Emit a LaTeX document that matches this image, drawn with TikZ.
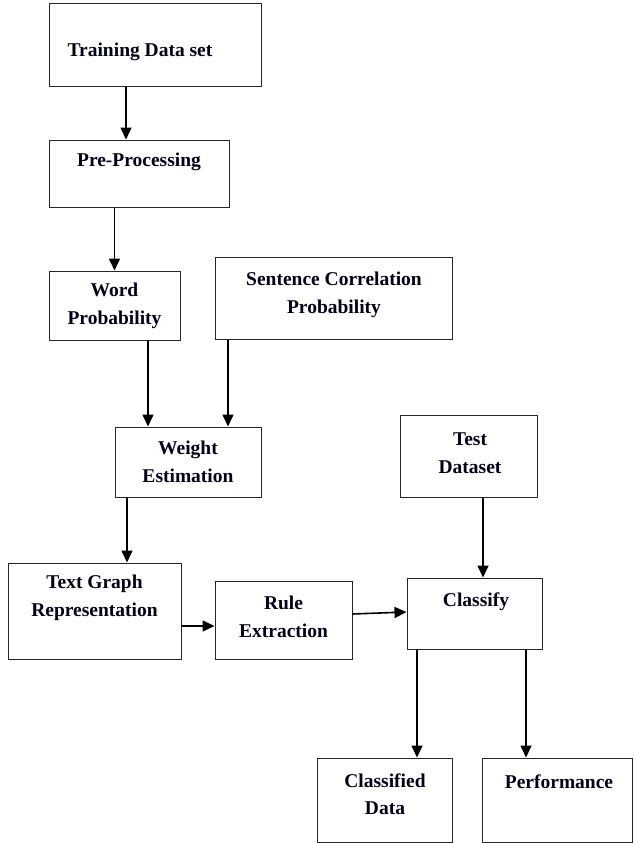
\documentclass[tikz,border=0pt]{standalone}
\usepackage{fontspec}
\setmainfont{Liberation Serif}
\usetikzlibrary{arrows.meta, positioning, calc}

\begin{document}
\begin{tikzpicture}[
  x=1pt, y=-1pt,
  box/.style={
    rectangle, draw=black!85, line width=1pt, fill=white,
    inner sep=0pt
  },
  lbl/.style={
    font=\fontsize{19.5}{27.5}\selectfont\bfseries,
    text=black!90!blue, align=center, inner sep=0pt
  },
  arr/.style={-{Triangle[length=12pt, width=11pt]}, line width=1.6pt, black}
]
  \useasboundingbox (0,0) rectangle (633,843);

  % Left column
  \node[box, minimum width=212, minimum height=82] (train) at (155,45) {};
  \node[lbl] (train-t) at (140,52) {Training Data set};
  \node[box, minimum width=180, minimum height=67] (pre) at (139,173.5) {};
  \node[lbl] (pre-t) at (139,162) {Pre-Processing};
  \node[box, minimum width=131, minimum height=69] (word) at (114.5,305.5) {};
  \node[lbl] (word-t) at (114.5,306) {Word\\Probability};
  \node[box, minimum width=237, minimum height=82] (sent) at (333.5,298) {};
  \node[lbl] (sent-t) at (334,295) {Sentence Correlation\\Probability};
  \node[box, minimum width=146, minimum height=70] (weight) at (188,462) {};
  \node[lbl] (weight-t) at (188,462) {Weight\\Estimation};

  % Bottom row
  \node[box, minimum width=173, minimum height=96] (tgr) at (94.5,611) {};
  \node[lbl] (tgr-t) at (94.5,598) {Text Graph\\Representation};
  \node[box, minimum width=137, minimum height=78] (rule) at (283.5,620) {};
  \node[lbl] (rule-t) at (283.5,617) {Rule\\Extraction};
  \node[box, minimum width=137, minimum height=82] (test) at (468.5,456) {};
  \node[lbl] (test-t) at (470,453) {Test\\Dataset};
  \node[box, minimum width=135, minimum height=71] (classify) at (474.5,613.5) {};
  \node[lbl] (classify-t) at (476,602) {Classify};
  \node[box, minimum width=135, minimum height=84] (cdata) at (384.5,800) {};
  \node[lbl] (cdata-t) at (385,794) {Classified\\Data};
  \node[box, minimum width=150, minimum height=84] (perf) at (557,800) {};
  \node[lbl] (perf-t) at (559,782) {Performance};

  % Arrows
  \draw[arr] ([xshift=-29]train.south) -- ([xshift=-29]train.south |- pre.north);
  \draw[arr] (pre.south -| word.north) -- (word.north);
  \draw[arr] ([xshift=33.5]word.south) -- ([xshift=33.5]word.south |- weight.north);
  \draw[arr] ([xshift=-105.5]sent.south) -- ([xshift=-105.5]sent.south |- weight.north);
  \draw[arr] ([xshift=-61]weight.south) -- ([xshift=-61]weight.south |- tgr.north);
  \draw[arr] ([xshift=14.5]test.south) -- ([xshift=14.5]test.south |- classify.north);
  \draw[arr] ([yshift=-15]tgr.east) -- ([yshift=-15]tgr.east -| rule.west);
  \draw[arr] ([yshift=6]rule.east) -- ([yshift=1.5]classify.west);
  \draw[arr] ([xshift=-57.5]classify.south) -- ([xshift=-57.5]classify.south |- cdata.north);
  \draw[arr] ([xshift=51.5]classify.south) -- ([xshift=51.5]classify.south |- perf.north);
\end{tikzpicture}
\end{document}
